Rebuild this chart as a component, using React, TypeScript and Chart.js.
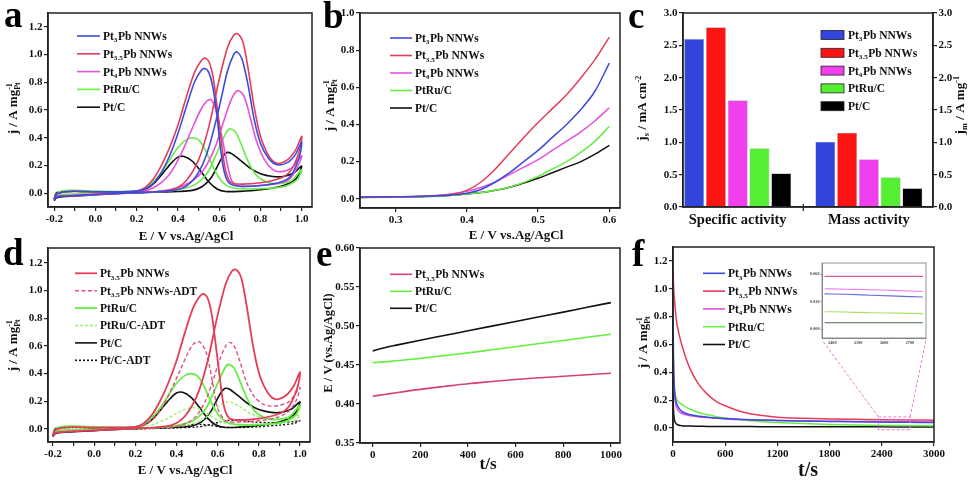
import React, { useEffect, useRef } from 'react';
import { Chart, registerables } from 'chart.js';
Chart.register(...registerables);

const SERIF = '"Liberation Serif", "Times New Roman", serif';
const PAGE_W = 975;
const PAGE_H = 481;

// ---------------- shared names / colours ----------------
const NAMES = ['Pt_{3}Pb NNWs', 'Pt_{3.5}Pb NNWs', 'Pt_{4}Pb NNWs', 'PtRu/C', 'Pt/C'];
const LINE_COLORS = ['#3b4bdc', '#e43d5a', '#e552dd', '#66ee44', '#111111'];
const BAR_COLORS = ['#3346dc', '#ff1414', '#f040ee', '#55ee33', '#000000'];

// ---------------- panel a / d : CV curves (E / V, j / A mg-1) ----------------
const CV_X_TICKS = [-0.2, 0, 0.2, 0.4, 0.6, 0.8, 1.0];
const CV_X_MINOR = [-0.1, 0.1, 0.3, 0.5, 0.7, 0.9];
const CV_Y_TICKS = [0, 0.2, 0.4, 0.6, 0.8, 1.0, 1.2];

const CV_PT3PB: [number, number][] = [
  [-0.2, -0.045], [-0.18, -0.025], [-0.1, -0.018], [0, -0.01], [0.1, -0.002], [0.2, 0.004], [0.3, 0.01], [0.38, 0.02], [0.44, 0.05], [0.5, 0.15], [0.55, 0.33], [0.6, 0.62], [0.64, 0.88], [0.67, 1.0], [0.685, 1.02], [0.71, 0.97], [0.74, 0.78], [0.77, 0.53], [0.8, 0.36], [0.84, 0.25], [0.88, 0.205], [0.93, 0.22], [0.97, 0.28], [1.0, 0.37],
  [0.99, 0.27], [0.95, 0.13], [0.9, 0.08], [0.8, 0.055], [0.7, 0.05], [0.65, 0.07], [0.625, 0.15], [0.605, 0.34], [0.59, 0.55], [0.57, 0.76], [0.55, 0.87], [0.53, 0.9], [0.51, 0.88], [0.48, 0.8], [0.44, 0.62], [0.4, 0.43], [0.36, 0.27], [0.32, 0.15], [0.28, 0.07], [0.24, 0.03], [0.2, 0.015], [0.1, 0.01], [0, 0.01], [-0.1, 0.014], [-0.15, 0.01], [-0.19, -0.01], [-0.2, -0.045],
];
const CV_PT35PB: [number, number][] = [
  [-0.2, -0.045], [-0.18, -0.025], [-0.1, -0.018], [0, -0.01], [0.1, -0.002], [0.2, 0.004], [0.3, 0.012], [0.38, 0.03], [0.44, 0.09], [0.5, 0.24], [0.55, 0.48], [0.6, 0.82], [0.64, 1.05], [0.67, 1.14], [0.69, 1.15], [0.715, 1.09], [0.74, 0.9], [0.77, 0.62], [0.8, 0.41], [0.84, 0.27], [0.88, 0.215], [0.93, 0.24], [0.97, 0.31], [1.0, 0.41],
  [0.99, 0.31], [0.95, 0.17], [0.9, 0.11], [0.8, 0.075], [0.7, 0.065], [0.655, 0.08], [0.63, 0.17], [0.61, 0.38], [0.59, 0.62], [0.57, 0.84], [0.55, 0.95], [0.53, 0.975], [0.51, 0.95], [0.48, 0.87], [0.44, 0.69], [0.4, 0.49], [0.36, 0.33], [0.32, 0.2], [0.28, 0.1], [0.24, 0.04], [0.2, 0.015], [0.1, 0.01], [0, 0.01], [-0.1, 0.014], [-0.15, 0.01], [-0.19, -0.01], [-0.2, -0.045],
];
const CV_PT4PB: [number, number][] = [
  [-0.2, -0.04], [-0.18, -0.022], [-0.1, -0.016], [0, -0.009], [0.1, -0.002], [0.2, 0.004], [0.3, 0.012], [0.36, 0.025], [0.42, 0.05], [0.48, 0.1], [0.53, 0.18], [0.58, 0.33], [0.62, 0.51], [0.66, 0.68], [0.69, 0.74], [0.72, 0.7], [0.75, 0.55], [0.78, 0.38], [0.82, 0.24], [0.86, 0.17], [0.9, 0.155], [0.95, 0.18], [1.0, 0.27],
  [0.98, 0.19], [0.94, 0.1], [0.88, 0.07], [0.8, 0.055], [0.7, 0.05], [0.665, 0.08], [0.645, 0.17], [0.625, 0.32], [0.6, 0.5], [0.58, 0.62], [0.56, 0.675], [0.54, 0.665], [0.51, 0.6], [0.47, 0.47], [0.43, 0.33], [0.39, 0.21], [0.35, 0.12], [0.3, 0.055], [0.25, 0.02], [0.2, 0.01], [0.1, 0.008], [0, 0.009], [-0.1, 0.012], [-0.15, 0.008], [-0.19, -0.01], [-0.2, -0.04],
];
const CV_PTRU: [number, number][] = [
  [-0.2, -0.035], [-0.18, -0.015], [-0.15, -0.008], [-0.1, -0.006], [0, -0.004], [0.1, 0], [0.2, 0.004], [0.3, 0.01], [0.4, 0.025], [0.48, 0.06], [0.54, 0.14], [0.58, 0.26], [0.615, 0.38], [0.64, 0.45], [0.655, 0.465], [0.68, 0.44], [0.71, 0.34], [0.74, 0.23], [0.78, 0.13], [0.84, 0.075], [0.9, 0.07], [0.95, 0.09], [1.0, 0.17],
  [0.98, 0.1], [0.92, 0.05], [0.84, 0.035], [0.74, 0.03], [0.66, 0.04], [0.61, 0.09], [0.57, 0.19], [0.53, 0.32], [0.5, 0.385], [0.47, 0.4], [0.44, 0.385], [0.4, 0.33], [0.36, 0.24], [0.32, 0.15], [0.28, 0.08], [0.24, 0.035], [0.2, 0.015], [0.1, 0.012], [0, 0.015], [-0.1, 0.02], [-0.15, 0.018], [-0.18, 0.005], [-0.2, -0.035],
];
const CV_PTC: [number, number][] = [
  [-0.2, -0.055], [-0.19, -0.035], [-0.16, -0.025], [-0.1, -0.02], [0, -0.012], [0.1, -0.004], [0.2, 0.002], [0.3, 0.008], [0.4, 0.012], [0.47, 0.02], [0.52, 0.05], [0.56, 0.11], [0.59, 0.19], [0.615, 0.26], [0.637, 0.293], [0.66, 0.285], [0.7, 0.24], [0.75, 0.18], [0.8, 0.14], [0.86, 0.12], [0.91, 0.12], [0.96, 0.145], [1.0, 0.195],
  [0.97, 0.1], [0.9, 0.05], [0.8, 0.025], [0.7, 0.013], [0.63, 0.012], [0.59, 0.03], [0.55, 0.08], [0.51, 0.16], [0.47, 0.23], [0.43, 0.265], [0.4, 0.26], [0.37, 0.22], [0.33, 0.15], [0.29, 0.08], [0.25, 0.035], [0.2, 0.012], [0.1, 0.01], [0, 0.01], [-0.1, 0.014], [-0.15, 0.012], [-0.19, 0], [-0.2, -0.055],
];
// panel d : after durability test
const CV_PT35PB_ADT: [number, number][] = [
  [-0.2, -0.04], [-0.18, -0.025], [-0.1, -0.015], [0, -0.01], [0.1, 0], [0.2, 0.005], [0.3, 0.01], [0.4, 0.02], [0.46, 0.05], [0.5, 0.1], [0.54, 0.2], [0.58, 0.36], [0.61, 0.5], [0.64, 0.6], [0.66, 0.625], [0.68, 0.6], [0.71, 0.48], [0.74, 0.34], [0.78, 0.23], [0.82, 0.18], [0.86, 0.165], [0.9, 0.17], [0.95, 0.2], [1.0, 0.3],
  [0.98, 0.2], [0.94, 0.12], [0.88, 0.08], [0.8, 0.06], [0.7, 0.05], [0.64, 0.06], [0.6, 0.15], [0.58, 0.3], [0.56, 0.46], [0.54, 0.57], [0.51, 0.63], [0.48, 0.61], [0.45, 0.53], [0.42, 0.43], [0.38, 0.3], [0.34, 0.18], [0.3, 0.09], [0.26, 0.04], [0.22, 0.015], [0.15, 0.01], [0, 0.01], [-0.1, 0.012], [-0.15, 0.008], [-0.19, -0.01], [-0.2, -0.04],
];
const CV_PTRU_ADT: [number, number][] = [
  [-0.2, -0.03], [-0.18, -0.015], [-0.1, -0.008], [0, -0.004], [0.1, 0], [0.2, 0.004], [0.3, 0.01], [0.4, 0.02], [0.48, 0.04], [0.54, 0.08], [0.58, 0.13], [0.62, 0.18], [0.65, 0.195], [0.68, 0.185], [0.72, 0.15], [0.76, 0.11], [0.82, 0.08], [0.9, 0.075], [0.95, 0.08], [1.0, 0.1],
  [0.97, 0.06], [0.9, 0.04], [0.8, 0.03], [0.7, 0.03], [0.62, 0.05], [0.56, 0.1], [0.52, 0.14], [0.48, 0.155], [0.44, 0.14], [0.4, 0.11], [0.35, 0.07], [0.3, 0.04], [0.25, 0.02], [0.2, 0.01], [0.1, 0.01], [0, 0.012], [-0.1, 0.015], [-0.15, 0.012], [-0.18, 0.002], [-0.2, -0.03],
];
const CV_PTC_ADT: [number, number][] = [
  [-0.2, -0.04], [-0.18, -0.025], [-0.1, -0.018], [0, -0.01], [0.1, -0.004], [0.2, 0], [0.3, 0.004], [0.4, 0.008], [0.5, 0.015], [0.56, 0.03], [0.61, 0.05], [0.65, 0.062], [0.7, 0.06], [0.78, 0.05], [0.86, 0.045], [0.93, 0.048], [0.97, 0.053], [1.0, 0.06],
  [0.97, 0.04], [0.9, 0.028], [0.8, 0.016], [0.7, 0.01], [0.62, 0.013], [0.57, 0.025], [0.52, 0.033], [0.47, 0.03], [0.4, 0.02], [0.3, 0.01], [0.2, 0.006], [0.1, 0.006], [0, 0.008], [-0.1, 0.01], [-0.15, 0.008], [-0.19, -0.01], [-0.2, -0.04],
];

// ---------------- panel b : LSV ----------------
const B_X_TICKS = [0.3, 0.4, 0.5, 0.6];
const B_Y_TICKS = [0, 0.2, 0.4, 0.6, 0.8, 1.0];
const B_E = [0.25, 0.3, 0.35, 0.38, 0.4, 0.42, 0.44, 0.46, 0.48, 0.5, 0.52, 0.54, 0.56, 0.58, 0.6];
const B_PT3PB = [0.008, 0.01, 0.014, 0.02, 0.03, 0.05, 0.09, 0.14, 0.2, 0.26, 0.33, 0.4, 0.48, 0.58, 0.73];
const B_PT35PB = [0.008, 0.01, 0.015, 0.025, 0.045, 0.09, 0.16, 0.245, 0.33, 0.41, 0.485, 0.56, 0.65, 0.75, 0.87];
const B_PT4PB = [0.008, 0.01, 0.015, 0.025, 0.04, 0.06, 0.09, 0.13, 0.17, 0.21, 0.26, 0.31, 0.36, 0.42, 0.49];
const B_PTRU = [0.006, 0.008, 0.012, 0.018, 0.025, 0.033, 0.045, 0.062, 0.088, 0.12, 0.16, 0.2, 0.25, 0.31, 0.39];
const B_PTC = [0.007, 0.009, 0.013, 0.018, 0.025, 0.033, 0.045, 0.062, 0.085, 0.11, 0.14, 0.17, 0.2, 0.24, 0.287];

// ---------------- panel c : activities ----------------
const C_CATEGORIES = ['Specific activity', 'Mass activity'];
const C_SPECIFIC = [2.6, 2.78, 1.65, 0.91, 0.52]; // mA cm-2
const C_MASS = [1.01, 1.15, 0.74, 0.46, 0.29]; // A mg-1
const C_Y_TICKS = [0, 0.5, 1.0, 1.5, 2.0, 2.5, 3.0];

// ---------------- panel e : chronopotentiometry ----------------
const E_X_TICKS = [0, 200, 400, 600, 800, 1000];
const E_Y_TICKS = [0.35, 0.4, 0.45, 0.5, 0.55, 0.6];
const E_T = [0, 50, 100, 200, 300, 400, 500, 600, 700, 800, 900, 1000];
const E_PT35PB = [0.41, 0.4122, 0.4145, 0.4188, 0.4225, 0.426, 0.4288, 0.4315, 0.4337, 0.4355, 0.4375, 0.4395];
const E_PTRU = [0.453, 0.454, 0.4555, 0.4585, 0.462, 0.4655, 0.4695, 0.4735, 0.4775, 0.4815, 0.4855, 0.4895];
const E_PTC = [0.468, 0.4722, 0.4755, 0.4818, 0.4878, 0.4938, 0.4998, 0.5058, 0.5118, 0.5178, 0.524, 0.53];

// ---------------- panel f : chronoamperometry ----------------
const F_X_TICKS = [0, 600, 1200, 1800, 2400, 3000];
const F_Y_TICKS = [0, 0.2, 0.4, 0.6, 0.8, 1.0, 1.2];
const F_T = [0, 5, 10, 20, 40, 60, 100, 150, 200, 300, 400, 500, 600, 800, 1000, 1200, 1500, 1800, 2100, 2400, 2700, 3000];
const F_PT3PB = [0.9, 0.55, 0.38, 0.25, 0.18, 0.15, 0.12, 0.105, 0.095, 0.085, 0.078, 0.072, 0.068, 0.062, 0.058, 0.055, 0.051, 0.048, 0.045, 0.043, 0.041, 0.04];
const F_PT35PB = [1.12, 1.05, 0.98, 0.9, 0.77, 0.7, 0.6, 0.5, 0.42, 0.31, 0.24, 0.19, 0.16, 0.115, 0.092, 0.078, 0.07, 0.066, 0.063, 0.06, 0.058, 0.057];
const F_PT4PB = [0.62, 0.45, 0.33, 0.22, 0.15, 0.125, 0.105, 0.095, 0.088, 0.08, 0.075, 0.07, 0.066, 0.061, 0.057, 0.054, 0.051, 0.049, 0.047, 0.046, 0.045, 0.044];
const F_PTRU = [0.46, 0.38, 0.32, 0.26, 0.21, 0.19, 0.17, 0.15, 0.135, 0.11, 0.095, 0.082, 0.072, 0.058, 0.048, 0.04, 0.032, 0.026, 0.022, 0.019, 0.018, 0.017];
const F_PTC = [0.26, 0.15, 0.09, 0.05, 0.03, 0.022, 0.017, 0.015, 0.014, 0.013, 0.012, 0.012, 0.011, 0.011, 0.01, 0.01, 0.01, 0.009, 0.009, 0.009, 0.008, 0.008];
const F_ZOOM_T = [2360, 2725];
const F_ZOOM_J = [-0.012, 0.08];
// inset
const IN_X_TICKS = [2400, 2500, 2600, 2700];
const IN_Y_TICKS = [0, 0.03, 0.06];
const IN_T = [2370, 2450, 2550, 2650, 2750];
const IN_A = [0.0575, 0.0575, 0.0575, 0.0575, 0.0575];
const IN_B = [0.044, 0.0435, 0.043, 0.042, 0.041];
const IN_C = [0.0385, 0.038, 0.037, 0.036, 0.035];
const IN_D = [0.019, 0.0188, 0.018, 0.0175, 0.017];
const IN_E = [0.007, 0.007, 0.007, 0.007, 0.007];
const IN_COLORS = ['#d0609a', '#f07ce8', '#6a6ad8', '#a8e060', '#4a6a4a'];

// ---------------- layout (page px) ----------------
type Area = [number, number, number, number];
const AREA_A: Area = [48, 13, 312, 207];
const AREA_B: Area = [360, 13, 620, 208];
const AREA_C: Area = [683, 13, 933, 207];
const AREA_D: Area = [48, 248, 310, 442];
const AREA_E: Area = [360, 248, 620, 443];
const AREA_F: Area = [673, 247, 934, 442];
const AREA_IN: Area = [822, 263, 926, 338];

// ---------------- rich text helpers ----------------
type Seg = { t: string; k: number };
function parseRich(s: string): Seg[] {
  const out: Seg[] = [];
  let buf = '';
  let i = 0;
  while (i < s.length) {
    const c = s[i];
    if ((c === '_' || c === '^') && s[i + 1] === '{') {
      if (buf) { out.push({ t: buf, k: 0 }); buf = ''; }
      const j = s.indexOf('}', i);
      out.push({ t: s.slice(i + 2, j), k: c === '_' ? -1 : 1 });
      i = j + 1;
    } else { buf += c; i++; }
  }
  if (buf) out.push({ t: buf, k: 0 });
  return out;
}
function richLayout(ctx: CanvasRenderingContext2D, s: string, size: number) {
  const segs = parseRich(s);
  const small = size * 0.62;
  const items: { t: string; k: number; dx: number }[] = [];
  let x = 0;
  for (let i = 0; i < segs.length; i++) {
    const g = segs[i];
    ctx.font = `bold ${g.k === 0 ? size : small}px ${SERIF}`;
    const w = ctx.measureText(g.t).width;
    if (g.k === -1 && segs[i + 1] && segs[i + 1].k === 1) {
      const h = segs[i + 1];
      const w2 = ctx.measureText(h.t).width;
      items.push({ t: g.t, k: -1, dx: x });
      items.push({ t: h.t, k: 1, dx: x });
      x += Math.max(w, w2) + 0.5;
      i++;
    } else {
      items.push({ t: g.t, k: g.k, dx: x });
      x += w + (g.k !== 0 ? 0.5 : 0);
    }
  }
  return { items, width: x };
}
function drawRich(ctx: CanvasRenderingContext2D, s: string, x: number, y: number, size: number, align: 'left' | 'center' = 'left', color = '#111') {
  const { items, width } = richLayout(ctx, s, size);
  const x0 = align === 'center' ? x - width / 2 : x;
  const base = y + size * 0.34;
  ctx.save();
  ctx.fillStyle = color;
  ctx.textBaseline = 'alphabetic';
  ctx.textAlign = 'left';
  for (const it of items) {
    ctx.font = `bold ${it.k === 0 ? size : size * 0.62}px ${SERIF}`;
    const by = it.k === 0 ? base : it.k === -1 ? base + size * 0.22 : base - size * 0.42;
    ctx.fillText(it.t, x0 + it.dx, by);
  }
  ctx.restore();
}
function drawRichRot(ctx: CanvasRenderingContext2D, s: string, cx: number, cy: number, size: number) {
  ctx.save();
  ctx.translate(cx, cy);
  ctx.rotate(-Math.PI / 2);
  drawRich(ctx, s, 0, 0, size, 'center');
  ctx.restore();
}
function drawLetter(ctx: CanvasRenderingContext2D, l: string, x: number, y: number) {
  ctx.save();
  ctx.font = `bold 37px ${SERIF}`;
  ctx.fillStyle = '#000';
  ctx.textBaseline = 'alphabetic';
  ctx.textAlign = 'left';
  ctx.fillText(l, x, y);
  ctx.restore();
}
function drawFrame(chart: any, color = '#222', lw = 1.5) {
  const { left, top, right, bottom } = chart.chartArea;
  const ctx: CanvasRenderingContext2D = chart.ctx;
  ctx.save();
  ctx.strokeStyle = color;
  ctx.lineWidth = lw;
  ctx.setLineDash([]);
  ctx.strokeRect(left, top, right - left, bottom - top);
  ctx.restore();
}
type LegendSpec = { x1: number; x2: number; tx: number; y0: number; dy: number; size: number; box?: boolean };
function drawLegend(chart: any, L: LegendSpec) {
  const ctx: CanvasRenderingContext2D = chart.ctx;
  chart.data.datasets.forEach((ds: any, i: number) => {
    if (!ds.label) return;
    const y = L.y0 + i * L.dy;
    ctx.save();
    if (L.box) {
      ctx.fillStyle = ds.backgroundColor;
      ctx.fillRect(L.x1, y - 4.5, L.x2 - L.x1, 9);
      ctx.strokeStyle = '#222';
      ctx.lineWidth = 0.8;
      ctx.strokeRect(L.x1, y - 4.5, L.x2 - L.x1, 9);
    } else {
      ctx.strokeStyle = ds.borderColor;
      ctx.lineWidth = Math.max(ds.borderWidth, 1.6);
      ctx.setLineDash(ds.borderDash || []);
      ctx.beginPath();
      ctx.moveTo(L.x1, y);
      ctx.lineTo(L.x2, y);
      ctx.stroke();
    }
    ctx.restore();
    drawRich(ctx, ds.label, L.tx, y, L.size);
  });
}

// ---------------- chart helpers ----------------
function padFor(a: Area, yW: number, xH: number, rW = 0) {
  return { left: a[0] - yW, top: a[1], right: PAGE_W - a[2] - rW, bottom: PAGE_H - a[3] - xH };
}
type AxisOpt = { pos: 'bottom' | 'left' | 'right'; min: number; max: number; major: number[]; minor?: number[]; dec: number; size: number; font?: number; tick?: number; color?: string; bw?: number };
function linAxis(o: AxisOpt): any {
  const all = [...o.major, ...(o.minor || [])].sort((a, b) => a - b);
  const keys = new Set(o.major.map((v) => Math.round(v * 1e6)));
  const horiz = o.pos === 'bottom';
  const col = o.color || '#222';
  return {
    type: 'linear', position: o.pos, min: o.min, max: o.max, offset: false, bounds: 'data',
    afterBuildTicks: (s: any) => { s.ticks = all.map((v) => ({ value: v })); },
    afterFit: (s: any) => { if (horiz) s.height = o.size; else s.width = o.size; },
    ticks: {
      autoSkip: false, maxRotation: 0, minRotation: 0, padding: o.tick !== undefined ? 1 : horiz ? 2 : 1.5, color: o.color ? '#444' : '#111',
      font: { family: SERIF, size: o.font ?? 11, weight: 'bold' },
      callback: (v: number) => (keys.has(Math.round(v * 1e6)) ? v.toFixed(o.dec) : ''),
    },
    grid: { display: true, drawOnChartArea: false, drawTicks: true, tickLength: o.tick ?? 4, color: col, lineWidth: o.bw ? o.bw * 0.8 : 1.2, offset: false },
    border: { display: true, color: col, width: o.bw ?? 1.5 },
  };
}
function pts(xs: number[], ys: number[]) { return xs.map((x, i) => ({ x, y: ys[i] })); }
function loop(p: [number, number][]) { return p.map(([x, y]) => ({ x, y })); }
function lineDS(label: string | undefined, data: any[], color: string, width = 1.6, dash?: number[], mono = false): any {
  return {
    label, data, showLine: true, borderColor: color, backgroundColor: color, borderWidth: width,
    borderDash: dash || [], pointRadius: 0, fill: false,
    tension: mono ? 0.4 : 0.3, cubicInterpolationMode: mono ? 'monotone' : 'default',
  };
}
function base(pad: any, scales: any): any {
  return {
    responsive: false, maintainAspectRatio: false, animation: false, devicePixelRatio: 1, events: [],
    layout: { padding: pad },
    plugins: { legend: { display: false }, tooltip: { enabled: false }, title: { display: false } },
    scales,
  };
}
function extras(fn: (chart: any, ctx: CanvasRenderingContext2D) => void): any {
  return { id: 'extras', afterDraw(chart: any) { const ctx = chart.ctx; ctx.save(); fn(chart, ctx); ctx.restore(); } };
}

const X_TITLE_CV = 'E / V vs.Ag/AgCl';
const Y_TITLE_J = 'j / A mg_{Pt}^{-1}';

function cfgA(): any {
  return {
    type: 'scatter',
    data: {
      datasets: [
        lineDS(NAMES[0], loop(CV_PT3PB), LINE_COLORS[0]),
        lineDS(NAMES[1], loop(CV_PT35PB), LINE_COLORS[1]),
        lineDS(NAMES[2], loop(CV_PT4PB), LINE_COLORS[2]),
        lineDS(NAMES[3], loop(CV_PTRU), LINE_COLORS[3]),
        lineDS(NAMES[4], loop(CV_PTC), LINE_COLORS[4]),
      ],
    },
    options: base(padFor(AREA_A, 40, 30), {
      x: linAxis({ pos: 'bottom', min: -0.23, max: 1.05, major: CV_X_TICKS, minor: CV_X_MINOR, dec: 1, size: 30 }),
      y: linAxis({ pos: 'left', min: -0.1, max: 1.3, major: CV_Y_TICKS, dec: 1, size: 40 }),
    }),
    plugins: [extras((ch, ctx) => {
      drawFrame(ch);
      drawLegend(ch, { x1: 77, x2: 100, tx: 103, y0: 36, dy: 17.8, size: 11.5 });
      drawRichRot(ctx, Y_TITLE_J, 13, 108, 13);
      drawRich(ctx, X_TITLE_CV, 186, 236, 13, 'center');
      drawLetter(ctx, 'a', 4, 27);
    })],
  };
}

function cfgB(): any {
  return {
    type: 'scatter',
    data: {
      datasets: [
        lineDS(NAMES[0], pts(B_E, B_PT3PB), LINE_COLORS[0], 1.5, undefined, true),
        lineDS(NAMES[1], pts(B_E, B_PT35PB), LINE_COLORS[1], 1.5, undefined, true),
        lineDS(NAMES[2], pts(B_E, B_PT4PB), LINE_COLORS[2], 1.5, undefined, true),
        lineDS(NAMES[3], pts(B_E, B_PTRU), LINE_COLORS[3], 1.5, undefined, true),
        lineDS(NAMES[4], pts(B_E, B_PTC), LINE_COLORS[4], 1.5, undefined, true),
      ],
    },
    options: base(padFor(AREA_B, 30, 30), {
      x: linAxis({ pos: 'bottom', min: 0.25, max: 0.615, major: B_X_TICKS, dec: 1, size: 30 }),
      y: linAxis({ pos: 'left', min: -0.05, max: 1.0, major: B_Y_TICKS, dec: 1, size: 30 }),
    }),
    plugins: [extras((ch, ctx) => {
      drawFrame(ch);
      drawLegend(ch, { x1: 390, x2: 412, tx: 415, y0: 38, dy: 17.5, size: 11.5 });
      drawRichRot(ctx, Y_TITLE_J, 330, 105, 13);
      drawRich(ctx, X_TITLE_CV, 516, 235, 13, 'center');
      drawLetter(ctx, 'b', 323, 28);
    })],
  };
}

function cfgC(): any {
  return {
    type: 'bar',
    data: {
      datasets: NAMES.map((n, i) => ({
        label: n,
        data: C_CATEGORIES.map((_, k) => ({ x: k + 1, y: k === 0 ? C_SPECIFIC[i] : C_MASS[i] })),
        backgroundColor: BAR_COLORS[i], borderColor: 'rgba(0,0,0,0.3)', borderWidth: 0.6,
        categoryPercentage: 0.83, barPercentage: 0.92,
      })),
    },
    options: base(padFor(AREA_C, 34, 30, 42), {
      x: {
        type: 'linear', position: 'bottom', min: 0.583, max: 2.489, offset: false, bounds: 'data',
        afterBuildTicks: (s: any) => { s.ticks = [1, 2].map((v) => ({ value: v })); },
        afterFit: (s: any) => { s.height = 30; },
        ticks: {
          autoSkip: false, maxRotation: 0, padding: 1, color: '#111',
          font: { family: SERIF, size: 14.5, weight: 'bold' },
          callback: (_v: number, idx: number) => C_CATEGORIES[idx] ?? '',
        },
        grid: { display: true, drawOnChartArea: false, drawTicks: true, tickLength: 4, offset: false, lineWidth: 1.2, color: 'rgba(0,0,0,0)' },
        border: { display: true, color: '#222', width: 1.5 },
      },
      y: { ...linAxis({ pos: 'left', min: 0, max: 3, major: C_Y_TICKS, dec: 1, size: 34 }), beginAtZero: true },
      y2: { ...linAxis({ pos: 'right', min: 0, max: 3, major: C_Y_TICKS, dec: 1, size: 42 }), beginAtZero: true },
    }),
    plugins: [extras((ch, ctx) => {
      drawFrame(ch);
      // separator tick between the two groups
      const xm = ch.scales.x.getPixelForValue(1.5);
      const b = ch.chartArea.bottom;
      ctx.strokeStyle = '#222';
      ctx.lineWidth = 1.2;
      ctx.beginPath();
      ctx.moveTo(xm, b - 3); ctx.lineTo(xm, b + 4);
      ctx.stroke();
      drawLegend(ch, { x1: 821, x2: 844, tx: 848, y0: 35, dy: 17.8, size: 11.5, box: true });
      drawRichRot(ctx, 'j_{s} / mA cm^{-2}', 642, 108, 13);
      drawRichRot(ctx, 'j_{m} / A mg^{-1}', 960, 105, 13);
      drawLetter(ctx, 'c', 628, 28);
    })],
  };
}

function cfgD(): any {
  return {
    type: 'scatter',
    data: {
      datasets: [
        lineDS(NAMES[1], loop(CV_PT35PB), LINE_COLORS[1], 1.8),
        lineDS('Pt_{3.5}Pb NNWs-ADT', loop(CV_PT35PB_ADT), '#e0507e', 1.4, [4, 2.5]),
        lineDS(NAMES[3], loop(CV_PTRU), LINE_COLORS[3], 1.8),
        lineDS('PtRu/C-ADT', loop(CV_PTRU_ADT), '#9cf070', 1.4, [3, 2]),
        lineDS(NAMES[4], loop(CV_PTC), LINE_COLORS[4], 1.6),
        lineDS('Pt/C-ADT', loop(CV_PTC_ADT), '#111111', 1.4, [2, 2]),
      ],
    },
    options: base(padFor(AREA_D, 40, 30), {
      x: linAxis({ pos: 'bottom', min: -0.224, max: 1.049, major: CV_X_TICKS, minor: CV_X_MINOR, dec: 1, size: 30 }),
      y: linAxis({ pos: 'left', min: -0.094, max: 1.306, major: CV_Y_TICKS, dec: 1, size: 40 }),
    }),
    plugins: [extras((ch, ctx) => {
      drawFrame(ch);
      drawLegend(ch, { x1: 75, x2: 97, tx: 100, y0: 273.3, dy: 17.4, size: 11.5 });
      drawRichRot(ctx, Y_TITLE_J, 13, 345, 13);
      drawRich(ctx, X_TITLE_CV, 185, 470, 13, 'center');
      drawLetter(ctx, 'd', 3, 265);
    })],
  };
}

function cfgE(): any {
  return {
    type: 'scatter',
    data: {
      datasets: [
        lineDS(NAMES[1], pts(E_T, E_PT35PB), '#d8406e', 1.6, undefined, true),
        lineDS(NAMES[3], pts(E_T, E_PTRU), LINE_COLORS[3], 1.6, undefined, true),
        lineDS(NAMES[4], pts(E_T, E_PTC), LINE_COLORS[4], 1.6, undefined, true),
      ],
    },
    options: base(padFor(AREA_E, 32, 30), {
      x: linAxis({ pos: 'bottom', min: -53, max: 1038, major: E_X_TICKS, dec: 0, size: 30 }),
      y: linAxis({ pos: 'left', min: 0.35, max: 0.6, major: E_Y_TICKS, dec: 2, size: 32 }),
    }),
    plugins: [extras((ch, ctx) => {
      drawFrame(ch);
      drawLegend(ch, { x1: 390, x2: 412, tx: 415, y0: 274.3, dy: 17, size: 11.5 });
      drawRichRot(ctx, 'E / V (vs.Ag/AgCl)', 328, 343, 12.5);
      drawRich(ctx, 't/s', 488, 463, 17, 'center');
      drawLetter(ctx, 'e', 316, 266);
    })],
  };
}

function cfgF(): any {
  return {
    type: 'scatter',
    data: {
      datasets: [
        lineDS(NAMES[0], pts(F_T, F_PT3PB), LINE_COLORS[0], 1.5, undefined, true),
        lineDS(NAMES[1], pts(F_T, F_PT35PB), LINE_COLORS[1], 1.5, undefined, true),
        lineDS(NAMES[2], pts(F_T, F_PT4PB), LINE_COLORS[2], 1.5, undefined, true),
        lineDS(NAMES[3], pts(F_T, F_PTRU), LINE_COLORS[3], 1.5, undefined, true),
        lineDS(NAMES[4], pts(F_T, F_PTC), LINE_COLORS[4], 1.5, undefined, true),
      ],
    },
    options: base(padFor(AREA_F, 30, 30), {
      x: linAxis({ pos: 'bottom', min: 0, max: 3000, major: F_X_TICKS, dec: 0, size: 30 }),
      y: linAxis({ pos: 'left', min: -0.1, max: 1.3, major: F_Y_TICKS, dec: 1, size: 30 }),
    }),
    plugins: [extras((ch, ctx) => {
      drawFrame(ch);
      const xs = ch.scales.x;
      const ys = ch.scales.y;
      const x1 = xs.getPixelForValue(F_ZOOM_T[0]);
      const x2 = xs.getPixelForValue(F_ZOOM_T[1]);
      const y1 = ys.getPixelForValue(F_ZOOM_J[1]);
      const y2 = ys.getPixelForValue(F_ZOOM_J[0]);
      ctx.strokeStyle = '#e67ad6';
      ctx.lineWidth = 1;
      ctx.setLineDash([3, 2]);
      ctx.strokeRect(x1, y1, x2 - x1, y2 - y1);
      ctx.beginPath();
      ctx.moveTo(x1, y1); ctx.lineTo(AREA_IN[0], AREA_IN[3] + 2);
      ctx.moveTo(x2, y1); ctx.lineTo(AREA_IN[2], AREA_IN[3] + 2);
      ctx.stroke();
      ctx.setLineDash([]);
      drawLegend(ch, { x1: 703, x2: 725, tx: 728, y0: 273.3, dy: 17.8, size: 11.5 });
      drawRichRot(ctx, Y_TITLE_J, 643, 342, 13);
      drawRich(ctx, 't/s', 808, 469, 20, 'center');
      drawLetter(ctx, 'f', 632, 266);
    })],
  };
}

function cfgInset(): any {
  return {
    type: 'scatter',
    data: {
      datasets: [IN_A, IN_B, IN_C, IN_D, IN_E].map((arr, i) => lineDS(undefined, pts(IN_T, arr), IN_COLORS[i], 1.1, undefined, true)),
    },
    options: base(padFor(AREA_IN, 14, 10), {
      x: linAxis({ pos: 'bottom', min: 2360, max: 2762, major: IN_X_TICKS, dec: 0, size: 10, font: 4.2, tick: 1.5, color: '#777', bw: 0.8 }),
      y: linAxis({ pos: 'left', min: -0.0095, max: 0.072, major: IN_Y_TICKS, dec: 3, size: 14, font: 4.2, tick: 1.5, color: '#777', bw: 0.8 }),
    }),
    plugins: [
      { id: 'bg', beforeDraw(ch: any) { const { left, top, right, bottom } = ch.chartArea; ch.ctx.save(); ch.ctx.fillStyle = '#fff'; ch.ctx.fillRect(left, top, right - left, bottom - top); ch.ctx.restore(); } },
      extras((ch) => { drawFrame(ch, '#777', 0.8); }),
    ],
  };
}

export default function App() {
  const refs = useRef<(HTMLCanvasElement | null)[]>([]);
  useEffect(() => {
    const makers = [cfgA, cfgB, cfgC, cfgD, cfgE, cfgF, cfgInset];
    const charts: Chart[] = [];
    makers.forEach((m, i) => {
      const cv = refs.current[i];
      if (cv) charts.push(new Chart(cv, m()));
    });
    return () => { charts.forEach((c) => c.destroy()); };
  }, []);
  return (
    <div style={{ position: 'absolute', left: 0, top: 0, width: PAGE_W, height: PAGE_H, background: '#fff', overflow: 'hidden' }}>
      {Array.from({ length: 7 }).map((_, i) => (
        <canvas
          key={i}
          ref={(el) => { refs.current[i] = el; }}
          width={PAGE_W}
          height={PAGE_H}
          style={{ position: 'absolute', left: 0, top: 0, width: PAGE_W, height: PAGE_H }}
        />
      ))}
    </div>
  );
}
